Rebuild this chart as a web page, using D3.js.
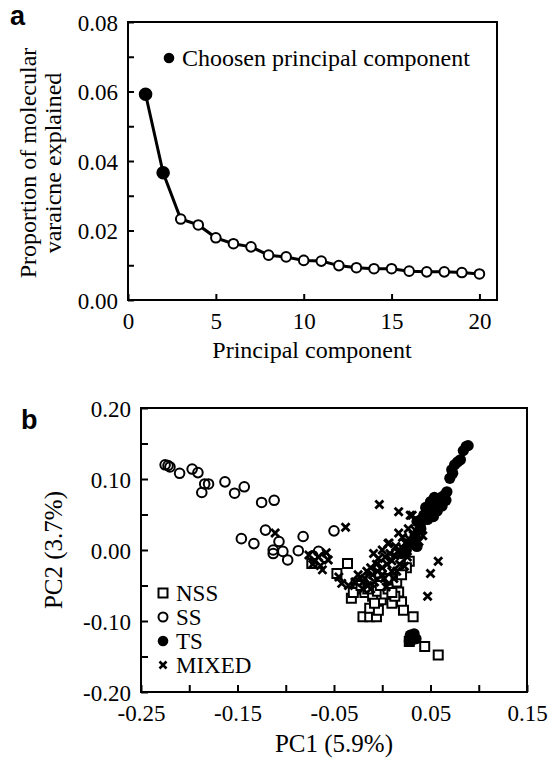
<!DOCTYPE html>
<html><head><meta charset="utf-8">
<script src="https://cdn.jsdelivr.net/npm/d3@7"></script>
<style>body{margin:0;background:#fff}svg{display:block}text{font-family:"Liberation Serif","Times New Roman",serif;fill:#000}</style>
</head><body>
<svg id="c" width="554" height="760"></svg>
<script>
// Panel a data
const pcIndex = d3.range(1, 21);
const varianceExplained = [0.0592,0.0366,0.0233,0.0216,0.0179,0.0162,0.0153,0.0129,0.0124,0.0114,0.0112,0.0099,0.0093,0.0090,0.0090,0.0083,0.0081,0.0081,0.0079,0.0075];
const chosenCount = 2;
const aXTicks = [0,5,10,15,20];
const aYTicks = [0,0.01,0.02,0.03,0.04,0.05,0.06,0.07,0.08];
const aYLabels = ["0.00","0.02","0.04","0.06","0.08"];

// Panel b data: [PC1, PC2]
const groupNames = ["NSS","SS","TS","MIXED"];
const ssPoints = [[-0.225,0.120],[-0.222,0.119],[-0.220,0.117],[-0.210,0.108],[-0.197,0.114],[-0.191,0.109],[-0.187,0.081],[-0.184,0.093],[-0.180,0.093],[-0.163,0.096],[-0.153,0.080],[-0.143,0.089],[-0.125,0.067],[-0.112,0.070],[-0.146,0.016],[-0.133,0.009],[-0.121,0.028],[-0.107,0.012],[-0.113,0.000],[-0.113,-0.005],[-0.103,-0.002],[-0.098,-0.014],[-0.082,0.019],[-0.087,-0.001],[-0.066,-0.002],[-0.050,0.027],[-0.072,-0.008],[-0.060,-0.010]];
const nssPoints = [[-0.036,-0.019],[-0.047,-0.033],[-0.032,-0.068],[-0.027,-0.047],[-0.020,-0.094],[-0.013,-0.094],[-0.006,-0.094],[-0.013,-0.082],[-0.004,-0.085],[-0.001,-0.070],[0.010,-0.075],[0.020,-0.073],[0.022,-0.085],[0.032,-0.094],[0.017,-0.059],[0.028,-0.016],[0.028,-0.129],[0.032,-0.122],[0.044,-0.136],[0.058,-0.148],[-0.073,-0.019],[-0.025,-0.055],[-0.018,-0.060],[-0.010,-0.065],[-0.005,-0.058],[0.003,-0.062],[0.008,-0.050],[0.013,-0.065],[-0.020,-0.045],[-0.012,-0.040],[0.000,-0.045],[0.005,-0.040],[0.015,-0.045],[-0.030,-0.060],[0.025,-0.025],[0.020,-0.035],[-0.008,-0.075],[-0.022,-0.050],[-0.015,-0.055],[0.006,-0.055],[0.010,-0.060],[-0.002,-0.050]];
const tsPoints = [[0.087,0.146],[0.089,0.147],[0.084,0.140],[0.081,0.127],[0.078,0.124],[0.075,0.120],[0.072,0.113],[0.070,0.101],[0.073,0.108],[0.067,0.082],[0.065,0.078],[0.062,0.075],[0.060,0.070],[0.056,0.070],[0.058,0.066],[0.054,0.074],[0.051,0.063],[0.048,0.056],[0.050,0.068],[0.045,0.060],[0.043,0.049],[0.039,0.042],[0.053,0.047],[0.057,0.055],[0.062,0.062],[0.066,0.070],[0.047,0.043],[0.036,0.040],[0.040,0.038],[0.029,-0.120],[0.031,-0.124],[0.028,-0.128],[0.033,-0.118],[0.030,-0.128],[0.035,-0.125],[0.036,0.005],[0.030,0.012],[0.025,0.000],[0.020,-0.005],[0.034,0.020],[0.040,0.030]];
const mixedPoints = [[-0.003,0.064],[0.017,0.054],[0.029,0.049],[0.031,0.049],[-0.038,0.032],[-0.111,0.024],[0.017,0.024],[0.032,0.021],[0.042,0.020],[0.006,0.009],[-0.009,-0.005],[0.058,-0.016],[0.050,-0.033],[0.047,-0.065],[0.007,0.010],[-0.076,-0.007],[-0.070,-0.015],[-0.064,-0.022],[-0.058,-0.004],[-0.056,-0.014],[-0.066,-0.010],[-0.072,-0.020],[-0.062,-0.028],[-0.045,-0.038],[-0.042,-0.047],[-0.025,-0.035],[-0.018,-0.040],[-0.010,-0.035],[-0.005,-0.030],[0.000,-0.025],[0.005,-0.020],[0.010,-0.015],[0.013,-0.008],[0.016,-0.002],[0.020,0.004],[0.024,0.010],[0.028,0.015],[0.034,0.028],[0.038,0.035],[0.023,-0.023],[-0.015,-0.050],[-0.008,-0.045],[0.002,-0.040],[0.010,-0.030],[0.018,-0.020],[-0.028,-0.045],[-0.020,-0.055],[0.004,-0.052],[0.026,-0.010],[0.030,0.005],[0.012,-0.040],[-0.012,-0.025],[0.038,0.012],[-0.035,-0.050],[0.000,0.000],[-0.004,-0.012],[-0.016,-0.030],[-0.006,-0.020],[0.003,-0.010],[0.008,-0.005],[0.014,0.005],[0.022,-0.005],[-0.020,-0.045],[-0.012,-0.055],[0.000,-0.035],[0.015,-0.030],[0.021,0.018],[0.027,0.030]];
const bXTicks = [-0.25,-0.20,-0.15,-0.10,-0.05,0,0.05,0.10,0.15];
const bXLabels = ["-0.25","-0.15","-0.05","0.05","0.15"];
const bYTicks = [-0.20,-0.15,-0.10,-0.05,0,0.05,0.10,0.15,0.20];
const bYLabels = ["-0.20","-0.10","0.00","0.10","0.20"];

const svg = d3.select("#c");

// ---------- Panel a ----------
const A = {l:128, r:497, t:22, b:300};
const xa = d3.scaleLinear().domain([0,21]).range([A.l, A.r]);
const ya = d3.scaleLinear().domain([0,0.08]).range([A.b, A.t]);
const ga = svg.append("g");
ga.append("rect").attr("x",A.l).attr("y",A.t).attr("width",A.r-A.l).attr("height",A.b-A.t)
  .attr("fill","none").attr("stroke","#000").attr("stroke-width",2);
const axA = ga.append("g").attr("transform",`translate(0,${A.b})`)
  .call(d3.axisBottom(xa).tickValues(aXTicks).tickSizeInner(-6).tickSizeOuter(0).tickPadding(9).tickFormat(d3.format("d")));
const ayA = ga.append("g").attr("transform",`translate(${A.l},0)`)
  .call(d3.axisLeft(ya).tickValues(aYTicks).tickSizeInner(-6).tickSizeOuter(0).tickPadding(10)
    .tickFormat(d => { const s = d3.format(".2f")(d); return aYLabels.includes(s) ? s : ""; }));
[axA, ayA].forEach(g => { g.select(".domain").remove(); g.selectAll("line").attr("stroke","#000").attr("stroke-width",2);
  g.selectAll("text").style("font-family","Liberation Serif").style("font-size","23px").attr("fill","#000"); });
axA.selectAll("text").attr("dy","0.85em");
ayA.selectAll("text").attr("dy","0.35em");

const line = d3.line().x((d,i)=>xa(pcIndex[i])).y(d=>ya(d));
ga.append("path").datum(varianceExplained).attr("d",line).attr("fill","none").attr("stroke","#000").attr("stroke-width",3);
ga.selectAll("circle.pt").data(varianceExplained).join("circle").attr("class","pt")
  .attr("cx",(d,i)=>xa(pcIndex[i])).attr("cy",d=>ya(d)).attr("r",(d,i)=>i<chosenCount?5.8:4.8)
  .attr("fill",(d,i)=>i<chosenCount?"#000":"#fff").attr("stroke","#000").attr("stroke-width",2);
// legend a
ga.append("circle").attr("cx",169).attr("cy",58).attr("r",5.3).attr("fill","#000");
ga.append("text").attr("x",182).attr("y",66).style("font-size","24px").text("Choosen principal component");
// y title
ga.append("text").attr("transform","translate(36,163) rotate(-90)").attr("text-anchor","middle").style("font-size","24px").text("Proportion of molecular");
ga.append("text").attr("transform","translate(61,163) rotate(-90)").attr("text-anchor","middle").style("font-size","24px").text("varaicne explained");
ga.append("text").attr("x",312).attr("y",358).attr("text-anchor","middle").style("font-size","24px").text("Principal component");
svg.append("text").attr("x",10).attr("y",25).style("font-family","Liberation Sans").style("font-weight","bold").style("font-size","27px").text("a");

// ---------- Panel b ----------
const B = {l:141, r:527, t:408, b:692};
const xb = d3.scaleLinear().domain([-0.25,0.15]).range([B.l, B.r]);
const yb = d3.scaleLinear().domain([-0.20,0.20]).range([B.b, B.t]);
const gb = svg.append("g");
gb.append("rect").attr("x",B.l).attr("y",B.t).attr("width",B.r-B.l).attr("height",B.b-B.t)
  .attr("fill","none").attr("stroke","#000").attr("stroke-width",2);
const fmt2 = d3.format(".2f");
const axB = gb.append("g").attr("transform",`translate(0,${B.b})`)
  .call(d3.axisBottom(xb).tickValues(bXTicks).tickSizeInner(-7).tickSizeOuter(0).tickPadding(9)
    .tickFormat(d => { const s = fmt2(d).replace("−","-"); return bXLabels.includes(s) ? s : ""; }));
const ayB = gb.append("g").attr("transform",`translate(${B.l},0)`)
  .call(d3.axisLeft(yb).tickValues(bYTicks).tickSizeInner(-7).tickSizeOuter(0).tickPadding(10)
    .tickFormat(d => { const s = fmt2(d).replace("−","-"); return bYLabels.includes(s) ? s : ""; }));
[axB, ayB].forEach(g => { g.select(".domain").remove(); g.selectAll("line").attr("stroke","#000").attr("stroke-width",2);
  g.selectAll("text").style("font-family","Liberation Serif").style("font-size","23px").attr("fill","#000"); });
axB.selectAll("text").attr("dy","0.85em");
ayB.selectAll("text").attr("dy","0.35em");

const sqPath = "M-4.5,-4.5H4.5V4.5H-4.5Z";
const xPath = "M-4,-4L4,4M-4,4L4,-4";
const plot = gb.append("g");
plot.selectAll("path.nss").data(nssPoints).join("path").attr("class","nss")
  .attr("transform",d=>`translate(${xb(d[0])},${yb(d[1])})`).attr("d",sqPath)
  .attr("fill","#fff").attr("stroke","#000").attr("stroke-width",2);
plot.selectAll("circle.ss").data(ssPoints).join("circle").attr("class","ss")
  .attr("cx",d=>xb(d[0])).attr("cy",d=>yb(d[1])).attr("r",4.8)
  .attr("fill","none").attr("stroke","#000").attr("stroke-width",2);
plot.selectAll("path.mx").data(mixedPoints).join("path").attr("class","mx")
  .attr("transform",d=>`translate(${xb(d[0])},${yb(d[1])})`).attr("d",xPath)
  .attr("fill","none").attr("stroke","#000").attr("stroke-width",2.8);
plot.selectAll("circle.ts").data(tsPoints).join("circle").attr("class","ts")
  .attr("cx",d=>xb(d[0])).attr("cy",d=>yb(d[1])).attr("r",5.6).attr("fill","#000");

// legend b
const legY = [593, 617, 641, 665];
const lg = gb.append("g");
lg.append("path").attr("transform",`translate(163,${legY[0]})`).attr("d","M-4.5,-4.5H4.5V4.5H-4.5Z").attr("fill","#fff").attr("stroke","#000").attr("stroke-width",2);
lg.append("circle").attr("cx",163).attr("cy",legY[1]).attr("r",4.5).attr("fill","none").attr("stroke","#000").attr("stroke-width",2);
lg.append("circle").attr("cx",163).attr("cy",legY[2]).attr("r",5.3).attr("fill","#000");
lg.append("path").attr("transform",`translate(163,${legY[3]})`).attr("d","M-3.5,-3.5L3.5,3.5M-3.5,3.5L3.5,-3.5").attr("fill","none").attr("stroke","#000").attr("stroke-width",2.6);
groupNames.forEach((n,i)=>{
  lg.append("text").attr("x",176).attr("y",legY[i]+8).style("font-size","23px").text(n);
});
gb.append("text").attr("transform","translate(62,550) rotate(-90)").attr("text-anchor","middle").style("font-size","25px").text("PC2 (3.7%)");
gb.append("text").attr("x",334).attr("y",752).attr("text-anchor","middle").style("font-size","25px").text("PC1 (5.9%)");
svg.append("text").attr("x",21).attr("y",429).style("font-family","Liberation Sans").style("font-weight","bold").style("font-size","27px").text("b");
</script>
</body></html>
